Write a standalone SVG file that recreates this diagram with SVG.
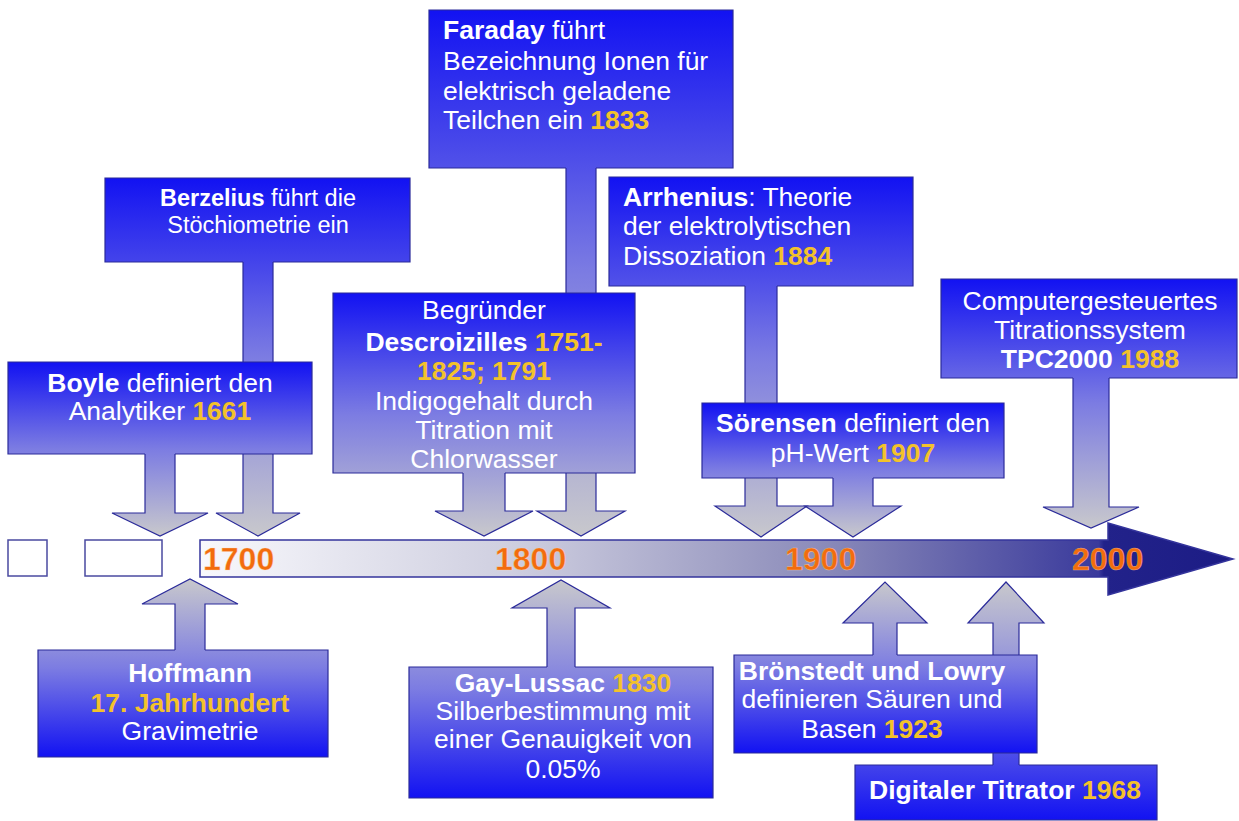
<svg xmlns="http://www.w3.org/2000/svg" width="1239" height="821" viewBox="0 0 1239 821">
<defs>
<style>
.t{font-family:"Liberation Sans",Arial,sans-serif;font-size:26.5px;fill:#ffffff}
.c{text-anchor:middle}
.b{font-weight:bold}
.y{fill:#f3c22b;font-weight:bold}
.yr{font-family:"Liberation Sans",Arial,sans-serif;font-size:32px;font-weight:bold;fill:#f26c0e;stroke:#ffd9b0;stroke-width:0.6;stroke-opacity:0.6}
.sh{stroke:#2b2b9a;stroke-width:1.2;stroke-linejoin:miter}
.sq{fill:#ffffff;stroke:#4a4aa0;stroke-width:1.5}
</style>
<linearGradient id="gBase">
<stop offset="0" stop-color="#1212f2"/>
<stop offset="0.5" stop-color="#7c7ce2"/>
<stop offset="1" stop-color="#c8c8cc"/>
</linearGradient>
<linearGradient id="gBerz" href="#gBase" gradientUnits="userSpaceOnUse" x1="0" y1="178" x2="0" y2="536"/>
<linearGradient id="gBoyle" href="#gBase" gradientUnits="userSpaceOnUse" x1="0" y1="362" x2="0" y2="536"/>
<linearGradient id="gFar" href="#gBase" gradientUnits="userSpaceOnUse" x1="0" y1="10" x2="0" y2="536"/>
<linearGradient id="gDesc" href="#gBase" gradientUnits="userSpaceOnUse" x1="0" y1="293" x2="0" y2="536"/>
<linearGradient id="gArr" href="#gBase" gradientUnits="userSpaceOnUse" x1="0" y1="177" x2="0" y2="537"/>
<linearGradient id="gSor" href="#gBase" gradientUnits="userSpaceOnUse" x1="0" y1="403" x2="0" y2="537"/>
<linearGradient id="gComp" href="#gBase" gradientUnits="userSpaceOnUse" x1="0" y1="279" x2="0" y2="528"/>
<linearGradient id="gHoff" href="#gBase" gradientUnits="userSpaceOnUse" x1="0" y1="757" x2="0" y2="579"/>
<linearGradient id="gGay" href="#gBase" gradientUnits="userSpaceOnUse" x1="0" y1="798" x2="0" y2="580"/>
<linearGradient id="gBron" href="#gBase" gradientUnits="userSpaceOnUse" x1="0" y1="753" x2="0" y2="582"/>
<linearGradient id="gDig" href="#gBase" gradientUnits="userSpaceOnUse" x1="0" y1="820" x2="0" y2="582"/>
<linearGradient id="gBar" gradientUnits="userSpaceOnUse" x1="200" y1="0" x2="1233" y2="0">
<stop offset="0" stop-color="#f8f8fc"/>
<stop offset="0.3" stop-color="#cfcfe0"/>
<stop offset="0.6" stop-color="#8c8cba"/>
<stop offset="0.87" stop-color="#3a3a9c"/>
<stop offset="0.875" stop-color="#22228a"/>
<stop offset="1" stop-color="#1c1c85"/>
</linearGradient>
</defs>
<rect width="1239" height="821" fill="#ffffff"/>

<g id="timeline">
<rect class="sq" x="8" y="540" width="39" height="36"/>
<rect class="sq" x="85" y="540" width="77" height="36"/>
<path d="M200 540 H1108 V523 L1233 559 L1108 595 V577 H200 Z" fill="url(#gBar)" stroke="#34349c" stroke-width="1.5"/>
<text class="yr" x="203" y="570">1700</text>
<text class="yr" x="495" y="570">1800</text>
<text class="yr" x="785" y="570">1900</text>
<text class="yr" x="1072" y="570">2000</text>
</g>

<g id="connectors">
<path class="sh" fill="url(#gBerz)" d="M243 260 V513 H216 L258 536 L300 513 H273 V260"/>
<path class="sh" fill="url(#gBoyle)" d="M145 452 V513 H112 L160 536 L208 513 H175 V452"/>
<path class="sh" fill="url(#gFar)" d="M566 166 V511 H537 L581 536 L625 511 H596 V166"/>
<path class="sh" fill="url(#gDesc)" d="M463 471 V511 H435 L484 536 L533 511 H505 V471"/>
<path class="sh" fill="url(#gArr)" d="M745 284 V506 H715 L761 537 L807 506 H777 V284"/>
<path class="sh" fill="url(#gSor)" d="M833 476 V506 H805 L853 537 L901 506 H873 V476"/>
<path class="sh" fill="url(#gComp)" d="M1073 376 V507 H1043 L1091 528 L1139 507 H1109 V376"/>
<path class="sh" fill="url(#gHoff)" d="M175 652 V604 H142 L190 579 L238 604 H205 V652"/>
<path class="sh" fill="url(#gGay)" d="M547 669 V608 H512 L561 580 L610 608 H575 V669"/>
<path class="sh" fill="url(#gBron)" d="M873 657 V623 H843 L885 582 L927 623 H897 V657"/>
<path class="sh" fill="url(#gDig)" d="M993 767 V623 H968 L1006 582 L1044 623 H1019 V767"/>
</g>

<g id="berzelius">
<path class="sh" fill="url(#gBerz)" d="M273 262 H410 V178 H105 V262 H243"/>
<text class="t c" x="258" y="206" style="font-size:23.5px"><tspan class="b">Berzelius</tspan> führt die</text>
<text class="t c" x="258" y="233" style="font-size:23.5px">Stöchiometrie ein</text>
</g>

<g id="boyle">
<path class="sh" fill="url(#gBoyle)" d="M175 454 H312 V362 H8 V454 H145"/>
<text class="t c" x="160" y="392"><tspan class="b">Boyle</tspan> definiert den</text>
<text class="t c" x="160" y="420">Analytiker <tspan class="y">1661</tspan></text>
</g>

<g id="faraday">
<path class="sh" fill="url(#gFar)" d="M596 168 H733 V10 H429 V168 H566"/>
<text class="t" x="443" y="39"><tspan class="b">Faraday</tspan> führt</text>
<text class="t" x="443" y="70">Bezeichnung Ionen für</text>
<text class="t" x="443" y="100">elektrisch geladene</text>
<text class="t" x="443" y="129">Teilchen ein <tspan class="y">1833</tspan></text>
</g>

<g id="descroizilles">
<path class="sh" fill="url(#gDesc)" d="M505 473 H635 V293 H333 V473 H463"/>
<text class="t c" x="484" y="319">Begründer</text>
<text class="t c" x="484" y="351"><tspan class="b">Descroizilles</tspan> <tspan class="y">1751-</tspan></text>
<text class="t c" x="484" y="380"><tspan class="y">1825; 1791</tspan></text>
<text class="t c" x="484" y="410">Indigogehalt durch</text>
<text class="t c" x="484" y="439">Titration mit</text>
<text class="t c" x="484" y="468">Chlorwasser</text>
</g>

<g id="arrhenius">
<path class="sh" fill="url(#gArr)" d="M777 286 H913 V177 H609 V286 H745"/>
<text class="t" x="623" y="206"><tspan class="b">Arrhenius</tspan>: Theorie</text>
<text class="t" x="623" y="235">der elektrolytischen</text>
<text class="t" x="623" y="265">Dissoziation <tspan class="y">1884</tspan></text>
</g>

<g id="soerensen">
<path class="sh" fill="url(#gSor)" d="M873 478 H1004 V403 H702 V478 H833"/>
<text class="t c" x="853" y="432"><tspan class="b">Sörensen</tspan> definiert den</text>
<text class="t c" x="853" y="462">pH-Wert <tspan class="y">1907</tspan></text>
</g>

<g id="tpc2000">
<path class="sh" fill="url(#gComp)" d="M1109 378 H1237 V279 H941 V378 H1073"/>
<text class="t c" x="1090" y="310">Computergesteuertes</text>
<text class="t c" x="1090" y="339">Titrationssystem</text>
<text class="t c" x="1090" y="368"><tspan class="b">TPC2000</tspan> <tspan class="y">1988</tspan></text>
</g>

<g id="hoffmann">
<path class="sh" fill="url(#gHoff)" d="M175 650 H38 V757 H328 V650 H205"/>
<text class="t c b" x="190" y="682">Hoffmann</text>
<text class="t c y" x="190" y="712">17. Jahrhundert</text>
<text class="t c" x="190" y="740">Gravimetrie</text>
</g>

<g id="gaylussac">
<path class="sh" fill="url(#gGay)" d="M547 667 H409 V798 H713 V667 H575"/>
<text class="t c" x="563" y="692"><tspan class="b">Gay-Lussac</tspan> <tspan class="y">1830</tspan></text>
<text class="t c" x="563" y="720">Silberbestimmung mit</text>
<text class="t c" x="563" y="748">einer Genauigkeit von</text>
<text class="t c" x="563" y="778">0.05%</text>
</g>

<g id="digitaler">
<path class="sh" fill="url(#gDig)" d="M993 765 H855 V820 H1157 V765 H1019"/>
<text class="t c" x="1005" y="799"><tspan class="b">Digitaler Titrator</tspan> <tspan class="y">1968</tspan></text>
</g>

<g id="broenstedt">
<path class="sh" fill="url(#gBron)" d="M873 655 H734 V753 H1037 V655 H897"/>
<text class="t c b" x="872" y="680">Brönstedt und Lowry</text>
<text class="t c" x="872" y="708">definieren Säuren und</text>
<text class="t c" x="872" y="738">Basen <tspan class="y">1923</tspan></text>
</g>
</svg>
